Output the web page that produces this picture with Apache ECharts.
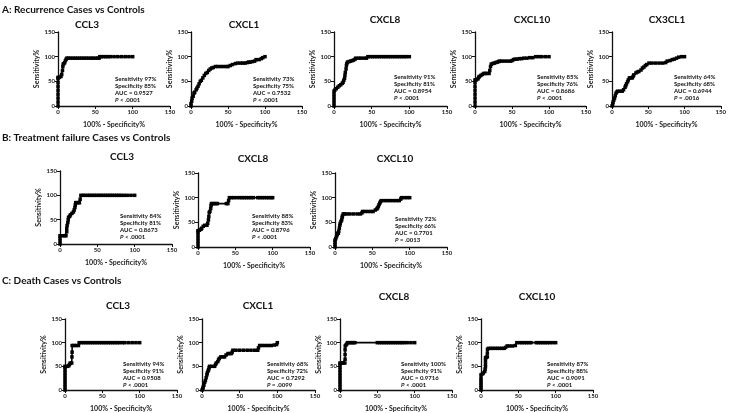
<!DOCTYPE html>
<html><head><meta charset="utf-8">
<script src="https://cdn.jsdelivr.net/npm/echarts@6/dist/echarts.min.js"></script>
<style>html,body{margin:0;padding:0;background:#fff}#c{width:729px;height:413px}</style>
</head><body><div id="c"></div><script>
// ===== Data (x = 100% - Specificity%, y = Sensitivity%) =====
const xTicks = [0, 50, 100, 150];
const yTicks = [0, 50, 100, 150];
const sectionTitles = ['A: Recurrence Cases vs Controls', 'B: Treatment failure Cases vs Controls', 'C: Death Cases vs Controls'];

const A_CCL3 = [[0,0],[0,8],[0,16],[0,24],[0,32],[0,40],[0,48],[0,56],[0,58],[2,58],[4,60],[5,64],[6,72],[6.5,80],[7,85],[8,86],[9,88],[10,92],[11,95],[12,97],[14,97],[17,97],[20,97],[23,97],[26,97],[29,97],[32,97],[35,97],[38,97],[41,97],[44,97],[47,97],[50,97],[53,97],[55,97],[56,100],[58,100],[61,100],[64,100],[67,100],[70,100],[75,100],[80,100],[85,100],[90,100],[95,100],[100,100]];
const A_CXCL1 = [[0,0],[0,5],[1,10],[1.5,16],[3,20],[4,26],[5,28],[7,33],[8,36],[9.5,40],[11,45],[12.5,50],[14,52],[16,57],[18,62],[20,66],[22,68],[24,72],[26,75],[28,77],[30,78],[33,80],[36,80],[40,80],[44,80],[48,80],[50,80],[53,82],[56,84],[60,86],[63,87],[67,87],[70,87],[73,87],[76,88],[78,89],[80,89],[83,90],[86,91],[88,94],[92,94],[95,96],[97,98],[100,100]];
const A_CXCL8 = [[0,0],[0,6],[0,12],[0,18],[0,24],[0,30],[1,32],[3,35],[5,38],[7,41],[9,43],[11,46],[12,48],[13,52],[14,56],[14.5,62],[15,68],[16,75],[16.5,82],[17,86],[18,89],[20,90],[22,91],[24,92],[26,93],[28,95],[29,97],[33,97],[36,97],[40,97],[43,97],[45,100],[48,100],[51,100],[54,100],[57,100],[60,100],[63,100],[66,100],[69,100],[72,100],[75,100],[78,100],[81,100],[84,100],[87,100],[90,100],[93,100],[96,100],[100,100]];
const A_CXCL10 = [[0,0],[0,8],[0,16],[0,24],[0,32],[0,40],[0,48],[0,53],[2,53],[4,55],[5,58],[6,60],[8,62],[10,64],[12,66],[14,66],[16,66],[19,66],[20,72],[21,80],[22,85],[24,86],[26,87],[28,88],[30,89],[32,90],[33,91],[36,91],[40,91],[44,91],[48,91],[50,92],[52,94],[54,95],[57,95],[60,96],[63,96],[66,97],[70,97],[74,98],[78,98],[82,100],[86,100],[90,100],[95,100],[100,100]];
const A_CX3CL1 = [[0,0],[1,4],[1.5,8],[2.5,12],[3.5,16],[4.5,21],[5.5,26],[7,29],[8,30],[11,30],[14,30],[16,33],[18,38],[19,41],[20,45],[21.5,49],[22.5,53],[24,57],[26,57],[28,57],[29,60],[30,63],[33,67],[35,69],[37,70],[40,73],[42,77],[44,79],[46,82],[48,84],[51,87],[55,87],[60,87],[65,87],[70,87],[74,88],[76,91],[80,92],[83,94],[86,95],[89,97],[92,99],[96,100],[100,100]];

const B_CCL3 = [[0,0],[0,6],[0,12],[0,17],[3,17],[6,17],[8,17],[9,25],[9,32],[9.5,38],[10.5,44],[11,50],[11.5,55],[13,57],[14,60],[16,63],[18,66],[19,70],[20,75],[20.5,80],[21,85],[23,85],[25,85],[26,85],[27,92],[28,100],[31,100],[34,100],[37,100],[40,100],[43,100],[46,100],[49,100],[52,100],[55,100],[58,100],[61,100],[64,100],[67,100],[70,100],[73,100],[76,100],[79,100],[82,100],[86,100],[90,100],[95,100],[100,100]];
const B_CXCL8 = [[0,0],[0,6],[0,12],[0,18],[0,24],[0,30],[0,33],[2,34],[4,36],[5,38],[7,42],[9,44],[12,44],[13,48],[14,55],[14.5,62],[15,70],[16,72],[17,78],[17.5,84],[18,88],[20,88],[22,88],[24,88],[26,88],[38,88],[40,88],[41,94],[42,100],[45,100],[48,100],[52,100],[56,100],[59,100],[62,100],[65,100],[68,100],[71,100],[74,100],[80,100],[83,100],[86,100],[89,100],[92,100],[95,100],[98,100],[100,100]];
const B_CXCL10 = [[0,0],[0,5],[0,10],[0,14],[1,17],[2,21],[3,25],[3.5,28],[4.5,28],[5,32],[5.8,38],[6.5,44],[7,48],[8,52],[9,55],[9.5,60],[10,63],[11,67],[13,67],[16,67],[20,67],[25,67],[30,67],[34,67],[36,69],[37,72],[40,72],[44,72],[48,72],[51,72],[54,75],[56,77],[57,79],[58,82],[59,86],[60,89],[61,92],[62,94],[66,94],[70,94],[74,94],[78,94],[82,94],[86,94],[88,97],[89,100],[92,100],[96,100],[100,100]];

const C_CCL3 = [[0,0],[0,6],[0,12],[0,18],[0,24],[0,30],[0,36],[0,42],[0,48],[0,50],[3,50],[5,51],[6,54],[7,57],[9,57],[9.3,70],[9.5,80],[9.6,94],[12,94],[15,94],[18,94],[19,100],[22,100],[25,100],[28,100],[31,100],[34,100],[37,100],[40,100],[43,100],[46,100],[49,100],[52,100],[55,100],[58,100],[61,100],[64,100],[67,100],[70,100],[73,100],[77,100],[80,100],[85,100],[90,100],[95,100],[100,100]];
const C_CXCL1 = [[0,0],[1,3],[1.5,6],[2.5,10],[3.5,16],[4.5,20],[5.5,26],[6.5,32],[7,36],[8,40],[8.8,43],[9.5,47],[10,50],[13,50],[16.8,50],[18,54],[19,57],[21,60],[22,64],[23,67],[25,70],[28,70],[30,70],[32,74],[34.5,77],[37,77],[39,77],[40,80],[41,84],[45,84],[50,84],[55,84],[60,84],[65,84],[70,84],[74,84],[75,89],[76.5,94],[80,94],[84,94],[88,94],[92,94],[96,95],[99,96],[100,100]];
const C_CXCL8 = [[0,0],[0,6],[0,12],[0,18],[0,24],[0,30],[0,36],[0,42],[0,48],[0,54],[0,57],[2,57],[4,57],[6.5,57],[6.8,65],[6.8,75],[6.8,85],[7,93],[8,95],[9,97],[10,100],[12,100],[14,100],[16,100],[18,100],[20,100],[50,100],[53,100],[56,100],[59,100],[62,100],[65,100],[68,100],[71,100],[74,100],[77,100],[80,100],[83,100],[86,100],[90,100],[95,100],[100,100]];
const C_CXCL10 = [[0,0],[0,5],[0,10],[0,15],[0,20],[0,25],[0,32],[2,34],[3,36],[5,39],[5.5,44],[6,49],[6,55],[6,62],[6,68],[7,69],[8.5,70],[8.5,78],[8.7,86],[10,88],[13,88],[16,88],[19,88],[22,88],[25,88],[28,88],[31,88],[33,90],[35,93],[38,93],[42,93],[46,94],[48,100],[52,100],[55,100],[58,100],[61,100],[64,100],[67,100],[74,100],[77,100],[80,100],[83,100],[86,100],[89,100],[92,100],[96,100],[100,100]];

const A_CCL3_stats   = ['Sensitivity 97%', 'Specificity 85%', 'AUC = 0.9527', '< .0001'];
const A_CXCL1_stats  = ['Sensitivity 73%', 'Specificity 75%', 'AUC = 0.7532', '< .0001'];
const A_CXCL8_stats  = ['Sensitivity 91%', 'Specificity 81%', 'AUC = 0.8954', '< .0001'];
const A_CXCL10_stats = ['Sensitivity 85%', 'Specificity 76%', 'AUC = 0.8686', '< .0001'];
const A_CX3CL1_stats = ['Sensitivity 64%', 'Specificity 68%', 'AUC = 0.6944', '= .0016'];
const B_CCL3_stats   = ['Sensitivity 84%', 'Specificity 81%', 'AUC = 0.8673', '< .0001'];
const B_CXCL8_stats  = ['Sensitivity 88%', 'Specificity 83%', 'AUC = 0.8796', '< .0001'];
const B_CXCL10_stats = ['Sensitivity 72%', 'Specificity 66%', 'AUC = 0.7701', '= .0013'];
const C_CCL3_stats   = ['Sensitivity 94%', 'Specificity 91%', 'AUC = 0.9508', '< .0001'];
const C_CXCL1_stats  = ['Sensitivity 68%', 'Specificity 72%', 'AUC = 0.7292', '= .0099'];
const C_CXCL8_stats  = ['Sensitivity 100%', 'Specificity 91%', 'AUC = 0.9716', '< .0001'];
const C_CXCL10_stats = ['Sensitivity 87%', 'Specificity 88%', 'AUC = 0.9091', '< .0001'];

// ===== Layout (pixels) =====
const panels = [
  {name:'CCL3',   data:A_CCL3,   stats:A_CCL3_stats,   g:[58,32,112,74],  t:[87,25],  s:[115,76]},
  {name:'CXCL1',  data:A_CXCL1,  stats:A_CXCL1_stats,  g:[191,32,111,74], t:[244,25], s:[253,76]},
  {name:'CXCL8',  data:A_CXCL8,  stats:A_CXCL8_stats,  g:[334,32,113,74], t:[385,20], s:[394,74]},
  {name:'CXCL10', data:A_CXCL10, stats:A_CXCL10_stats, g:[475,32,111,74], t:[532,20], s:[537,74]},
  {name:'CX3CL1', data:A_CX3CL1, stats:A_CX3CL1_stats, g:[612,32,112,74], t:[667,20], s:[674,74]},
  {name:'CCL3',   data:B_CCL3,   stats:B_CCL3_stats,   g:[60,171,112,73], t:[122,157],s:[120,213]},
  {name:'CXCL8',  data:B_CXCL8,  stats:B_CXCL8_stats,  g:[198,173,112,74],t:[253,159],s:[252,213]},
  {name:'CXCL10', data:B_CXCL10, stats:B_CXCL10_stats, g:[335,173,112,74],t:[395,159],s:[395,216]},
  {name:'CCL3',   data:C_CCL3,   stats:C_CCL3_stats,   g:[65,319,112,74], t:[118,306],s:[123,361]},
  {name:'CXCL1',  data:C_CXCL1,  stats:C_CXCL1_stats,  g:[202,319,113,74],t:[258,306],s:[267,361]},
  {name:'CXCL8',  data:C_CXCL8,  stats:C_CXCL8_stats,  g:[340,319,112,74],t:[394,297],s:[401,361]},
  {name:'CXCL10', data:C_CXCL10, stats:C_CXCL10_stats, g:[481,319,112,74],t:[537,297],s:[547,361]}
];
const sectionPos = [[2,10],[2,138],[2,281]];

const FF = 'Lato, "Open Sans", sans-serif';
const grid = [], xAxis = [], yAxis = [], series = [], graphic = [];
panels.forEach((p, i) => {
  grid.push({left:p.g[0], top:p.g[1], width:p.g[2], height:p.g[3], containLabel:false});
  const axisCommon = {
    type:'value', gridIndex:i, min:xTicks[0], max:xTicks[xTicks.length-1], interval:xTicks[1]-xTicks[0],
    nameLocation:'middle',
    nameTextStyle:{fontFamily:FF, fontWeight:'bold', fontSize:7, color:'#222'},
    axisLine:{show:true, onZero:false, lineStyle:{color:'#111', width:1.3}},
    axisTick:{show:true, length:3, lineStyle:{color:'#111', width:1}},
    axisLabel:{fontFamily:FF, fontSize:6, fontWeight:'bold', color:'#222', margin:3},
    splitLine:{show:false}
  };
  xAxis.push(Object.assign({}, axisCommon, {name:'100% - Specificity%', nameGap:15}));
  yAxis.push(Object.assign({}, axisCommon, {min:yTicks[0], max:yTicks[yTicks.length-1], interval:yTicks[1]-yTicks[0], name:'Sensitivity%', nameGap:17}));
  series.push({
    type:'line', xAxisIndex:i, yAxisIndex:i, data:p.data,
    symbol:'rect', symbolSize:3.5, showSymbol:true, clip:false,
    lineStyle:{color:'#000', width:1.6}, itemStyle:{color:'#000'},
    animation:false, silent:true
  });
  graphic.push({type:'text', x:p.t[0], y:p.t[1], style:{text:p.name, fontFamily:FF, fontWeight:'bold', fontSize:10, fill:'#111', textAlign:'center', textVerticalAlign:'middle'}});
  const st = p.stats;
  graphic.push({type:'text', x:p.s[0], y:p.s[1], style:{
    text:'{b|' + st[0] + '}\n{b|' + st[1] + '}\n{b|' + st[2] + '}\n{i|P}{b| ' + st[3] + '}',
    fontFamily:FF, fontSize:6, fill:'#111', textAlign:'left', textVerticalAlign:'top', lineHeight:7,
    rich:{b:{fontFamily:FF, fontWeight:'bold', fontSize:6, lineHeight:7, fill:'#111'}, i:{fontFamily:FF, fontWeight:'bold', fontStyle:'italic', fontSize:6, lineHeight:7, fill:'#111'}}
  }});
});
sectionTitles.forEach((t, k) => {
  graphic.push({type:'text', x:sectionPos[k][0], y:sectionPos[k][1], style:{text:t, fontFamily:FF, fontWeight:'bold', fontSize:10, fill:'#111', textAlign:'left', textVerticalAlign:'middle'}});
});

const chart = echarts.init(document.getElementById('c'));
chart.setOption({animation:false, backgroundColor:'#fff', grid, xAxis, yAxis, series, graphic});
</script></body></html>
